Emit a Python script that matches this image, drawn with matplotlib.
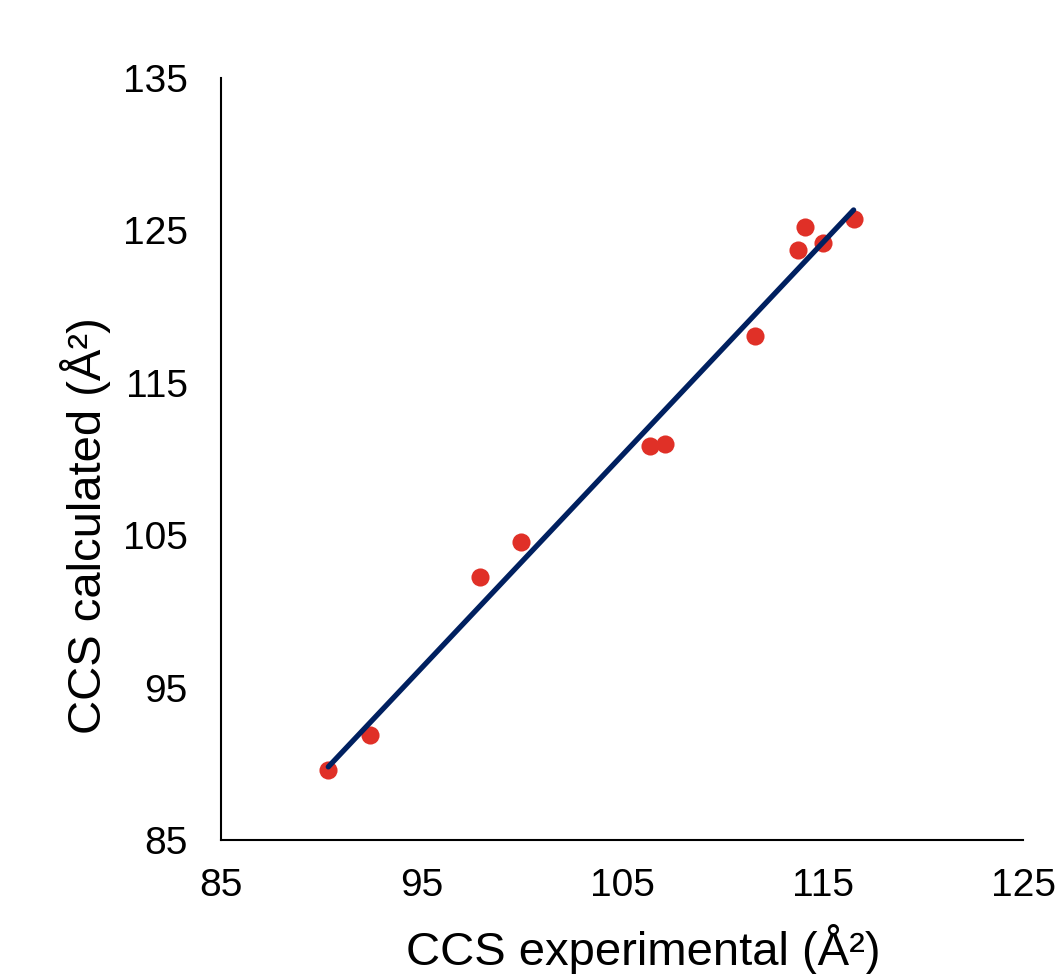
import numpy as np
import matplotlib.pyplot as plt

plt.rcParams['font.family'] = ['Liberation Sans', 'DejaVu Sans']

# CCS values (Å²)
ccs_exp = [90.35, 92.45, 97.9, 99.95, 106.4, 107.15, 111.65, 113.8, 114.15, 115.0, 116.55]
ccs_calc = [89.6, 91.9, 102.25, 104.55, 110.85, 110.95, 118.05, 123.7, 125.2, 124.15, 125.75]

x_ticks = [85, 95, 105, 115, 125]
y_ticks = [85, 95, 105, 115, 125, 135]

fig = plt.figure(figsize=(10.55, 9.74), dpi=100, facecolor='white')
ax = fig.add_axes([0.2095, 0.1376, 0.7602, 0.7824])

ax.scatter(ccs_exp, ccs_calc, s=170, color='#E03027', zorder=2, linewidths=0)

# linear trendline
k, b = np.polyfit(ccs_exp, ccs_calc, 1)
xs = np.array([min(ccs_exp), max(ccs_exp)])
ax.plot(xs, k * xs + b, color='#002060', lw=3.8, solid_capstyle='round', zorder=3)

ax.set_xlim(85, 125)
ax.set_ylim(85, 135)
ax.set_xticks(x_ticks)
ax.set_yticks(y_ticks)
ax.tick_params(length=0, labelsize=28)
ax.tick_params(axis='x', pad=20)
ax.tick_params(axis='y', pad=24)

for s in ['top', 'right']:
    ax.spines[s].set_visible(False)
for s in ['left', 'bottom']:
    ax.spines[s].set_linewidth(1.5)

ax.set_xlabel('CCS experimental (Å²)', fontsize=34)
ax.set_ylabel('CCS calculated (Å²)', fontsize=34)
ax.xaxis.set_label_coords(0.527, -0.144)
ax.xaxis.label.set_verticalalignment('center')
ax.yaxis.set_label_coords(-0.1696, 0.412)
ax.yaxis.label.set_verticalalignment('center')

fig.savefig('out.png', dpi=100)
